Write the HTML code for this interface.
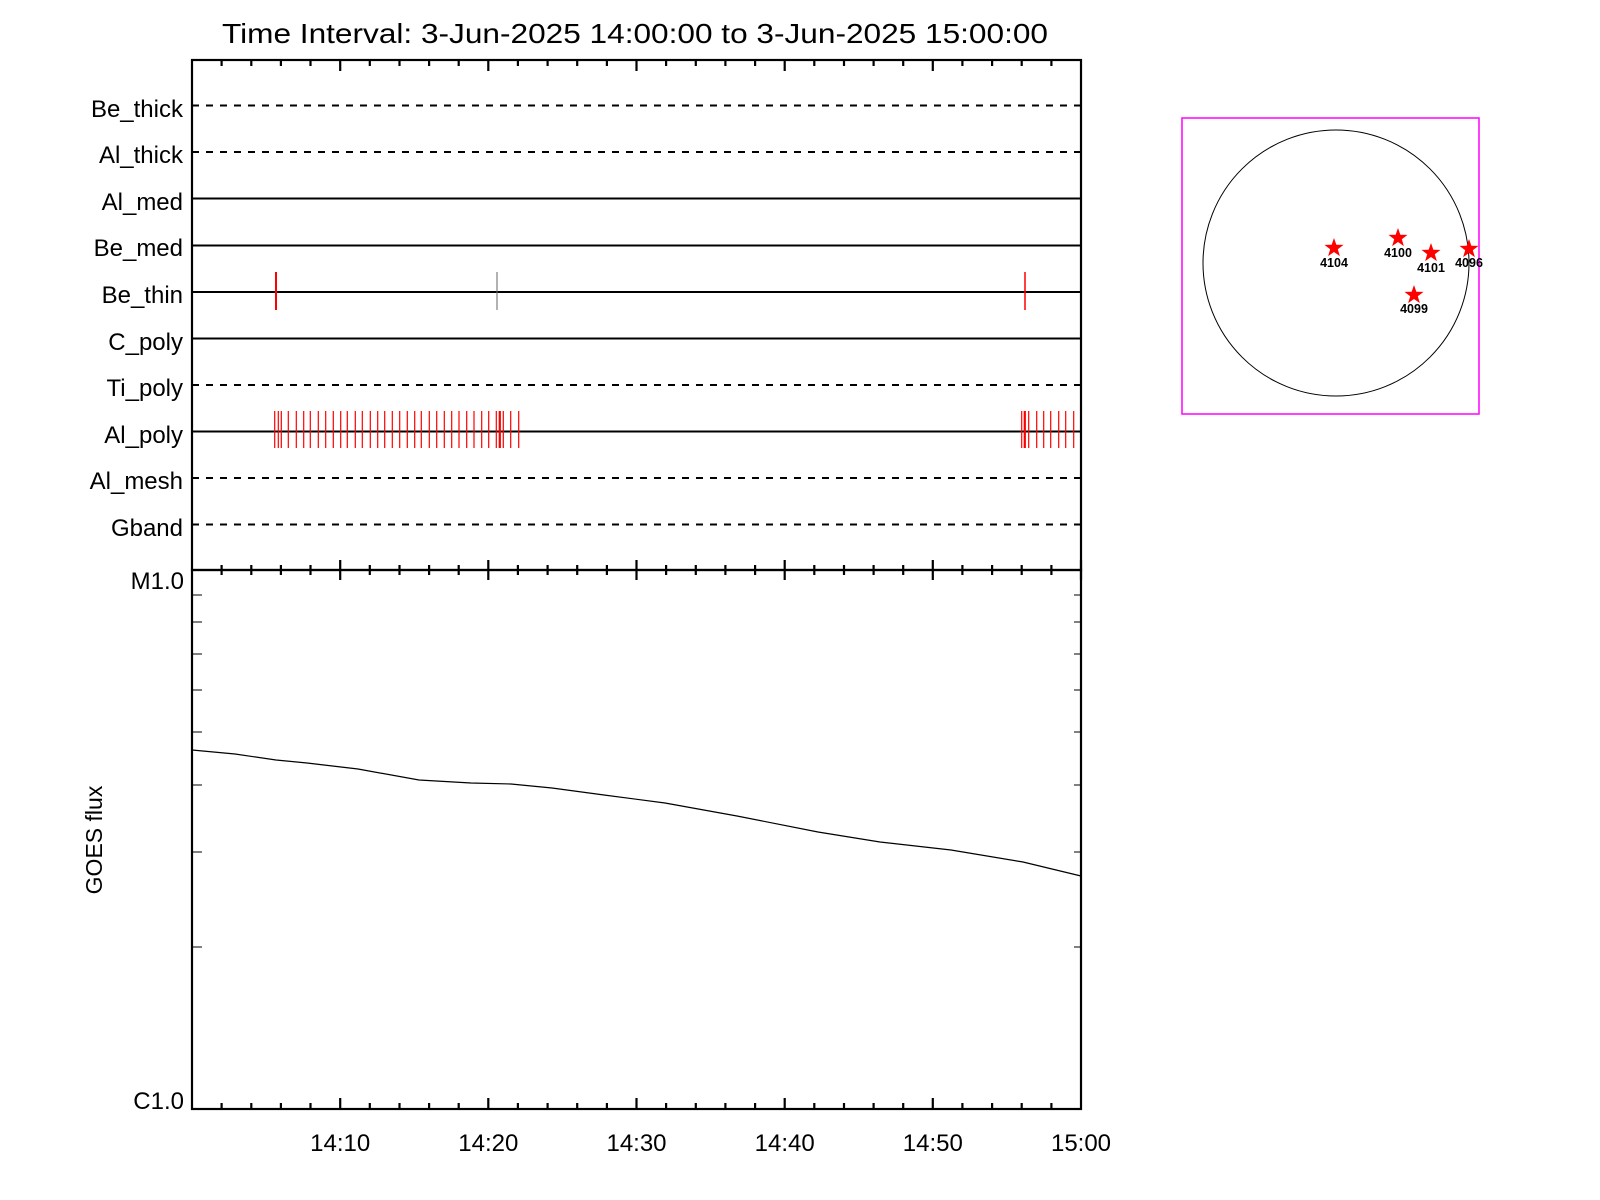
<!DOCTYPE html>
<html><head><meta charset="utf-8"><style>html,body{margin:0;padding:0;background:#fff}svg{display:block}</style></head>
<body>
<svg width="1600" height="1200" viewBox="0 0 1600 1200" xmlns="http://www.w3.org/2000/svg" font-family="Liberation Sans, sans-serif">
<rect width="1600" height="1200" fill="#fff"/>
<text x="222" y="43" font-size="28" textLength="826" lengthAdjust="spacingAndGlyphs">Time Interval:  3-Jun-2025 14:00:00 to  3-Jun-2025 15:00:00</text>

<g stroke="#000" stroke-width="2" fill="none">
<line x1="192" y1="105.5" x2="1081" y2="105.5" stroke-dasharray="7 7"/>
<line x1="192" y1="152" x2="1081" y2="152" stroke-dasharray="7 7"/>
<line x1="192" y1="198.5" x2="1081" y2="198.5"/>
<line x1="192" y1="245.5" x2="1081" y2="245.5"/>
<line x1="192" y1="292" x2="1081" y2="292"/>
<line x1="192" y1="338.5" x2="1081" y2="338.5"/>
<line x1="192" y1="385" x2="1081" y2="385" stroke-dasharray="7 7"/>
<line x1="192" y1="431.5" x2="1081" y2="431.5"/>
<line x1="192" y1="478" x2="1081" y2="478" stroke-dasharray="7 7"/>
<line x1="192" y1="524.5" x2="1081" y2="524.5" stroke-dasharray="7 7"/>
</g>
<g font-size="24" text-anchor="end">
<text x="183" y="117">Be_thick</text>
<text x="183" y="163">Al_thick</text>
<text x="183" y="210">Al_med</text>
<text x="183" y="256">Be_med</text>
<text x="183" y="303">Be_thin</text>
<text x="183" y="350">C_poly</text>
<text x="183" y="396">Ti_poly</text>
<text x="183" y="443">Al_poly</text>
<text x="183" y="489">Al_mesh</text>
<text x="183" y="536">Gband</text>
</g>

<line x1="276" y1="272" x2="276" y2="310" stroke="#f00" stroke-width="2"/>
<line x1="497" y1="272" x2="497" y2="310" stroke="#666" stroke-width="1"/>
<line x1="1025" y1="272" x2="1025" y2="310" stroke="#f00" stroke-width="1.5"/>
<path stroke="#f00" stroke-width="1.2" fill="none" d="
M274.7 411V448M278.3 411V448M281.3 411V448M288.3 411V448M296.3 411V448M303.7 411V448M310.3 411V448M318.3 411V448M325.7 411V448M333.3 411V448M340.7 411V448M347.3 411V448M355.3 411V448M362.3 411V448M370.3 411V448M377.7 411V448M384.7 411V448M392.3 411V448M399.7 411V448M407.3 411V448M414.7 411V448M421.3 411V448M429.3 411V448M436.7 411V448M444.3 411V448M451.7 411V448M459 411V448M466.7 411V448M474 411V448M481.7 411V448M488.7 411V448M496.3 411V448M499.3 411V448M500.3 411V448M503.3 411V448M510.7 411V448M518.7 411V448
M1021.7 411V448M1024.3 411V448M1025.3 411V448M1028.7 411V448M1036.7 411V448M1043.7 411V448M1050.7 411V448M1058.7 411V448M1065.7 411V448M1073.7 411V448"/>

<g stroke="#000" stroke-width="2.2" fill="none">
<rect x="192" y="60" width="889" height="510"/>
<rect x="192" y="570" width="889" height="539"/>
</g>
<g stroke="#000" stroke-width="2.2" fill="none">
<path d="M221.6 60v6M251.3 60v6M280.9 60v6M310.5 60v6M369.8 60v6M399.5 60v6M429.1 60v6M458.7 60v6M517.9 60v6M547.6 60v6M577.2 60v6M606.9 60v6M666.1 60v6M695.8 60v6M725.4 60v6M755.1 60v6M814.3 60v6M844 60v6M873.6 60v6M903.2 60v6M962.4 60v6M992.1 60v6M1021.7 60v6M1051.4 60v6
M340.2 60v11M488.3 60v11M636.5 60v11M784.7 60v11M932.8 60v11"/>
<path d="M221.6 565v10M251.3 565v10M280.9 565v10M310.5 565v10M369.8 565v10M399.5 565v10M429.1 565v10M458.7 565v10M517.9 565v10M547.6 565v10M577.2 565v10M606.9 565v10M666.1 565v10M695.8 565v10M725.4 565v10M755.1 565v10M814.3 565v10M844 565v10M873.6 565v10M903.2 565v10M962.4 565v10M992.1 565v10M1021.7 565v10M1051.4 565v10
M340.2 560v20M488.3 560v20M636.5 560v20M784.7 560v20M932.8 560v20M1081 560v20"/>
<path d="M221.6 1109v-6M251.3 1109v-6M280.9 1109v-6M310.5 1109v-6M369.8 1109v-6M399.5 1109v-6M429.1 1109v-6M458.7 1109v-6M517.9 1109v-6M547.6 1109v-6M577.2 1109v-6M606.9 1109v-6M666.1 1109v-6M695.8 1109v-6M725.4 1109v-6M755.1 1109v-6M814.3 1109v-6M844 1109v-6M873.6 1109v-6M903.2 1109v-6M962.4 1109v-6M992.1 1109v-6M1021.7 1109v-6M1051.4 1109v-6
M340.2 1109v-11M488.3 1109v-11M636.5 1109v-11M784.7 1109v-11M932.8 1109v-11"/>
</g>
<path stroke="#000" stroke-width="1" fill="none" d="M192 595h10M192 622h10M192 654h10M192 690h10M192 732h10M192 785h10M192 852h10M192 947h10
M1081 595h-7M1081 622h-7M1081 654h-7M1081 690h-7M1081 732h-7M1081 785h-7M1081 852h-7M1081 947h-7"/>

<text x="184" y="589" font-size="24" text-anchor="end">M1.0</text>
<text x="184" y="1109" font-size="24" text-anchor="end">C1.0</text>
<text transform="translate(102,840) rotate(-90)" font-size="23" text-anchor="middle">GOES flux</text>

<g font-size="24" text-anchor="middle">
<text x="340.2" y="1151">14:10</text>
<text x="488.3" y="1151">14:20</text>
<text x="636.5" y="1151">14:30</text>
<text x="784.7" y="1151">14:40</text>
<text x="932.8" y="1151">14:50</text>
<text x="1081" y="1151">15:00</text>
</g>

<polyline fill="none" stroke="#000" stroke-width="1.2" points="192,750 235,754 276,760 307,763 358,769 419,780 471,783 511,784 552,788 604,795 665,803 737,816 818,832 880,842 951,850 1023,862 1081,876"/>

<rect x="1182" y="118" width="297" height="296" fill="none" stroke="#f0f" stroke-width="1.5"/>
<circle cx="1336" cy="263" r="133" fill="none" stroke="#000" stroke-width="1"/>
<defs><polygon id="st" points="0,-10 2.35,-3.24 9.51,-3.09 3.8,1.24 5.88,8.09 0,4 -5.88,8.09 -3.8,1.24 -9.51,-3.09 -2.35,-3.24" fill="#f00"/></defs>
<use href="#st" x="1334" y="248"/>
<use href="#st" x="1398" y="238"/>
<use href="#st" x="1431" y="253"/>
<use href="#st" x="1414" y="295"/>
<use href="#st" x="1469" y="249"/>
<g font-size="12.5" font-weight="bold" text-anchor="middle">
<text x="1334" y="267">4104</text>
<text x="1398" y="257">4100</text>
<text x="1431" y="272">4101</text>
<text x="1414" y="313">4099</text>
<text x="1469" y="267">4096</text>
</g>
</svg>
</body></html>
